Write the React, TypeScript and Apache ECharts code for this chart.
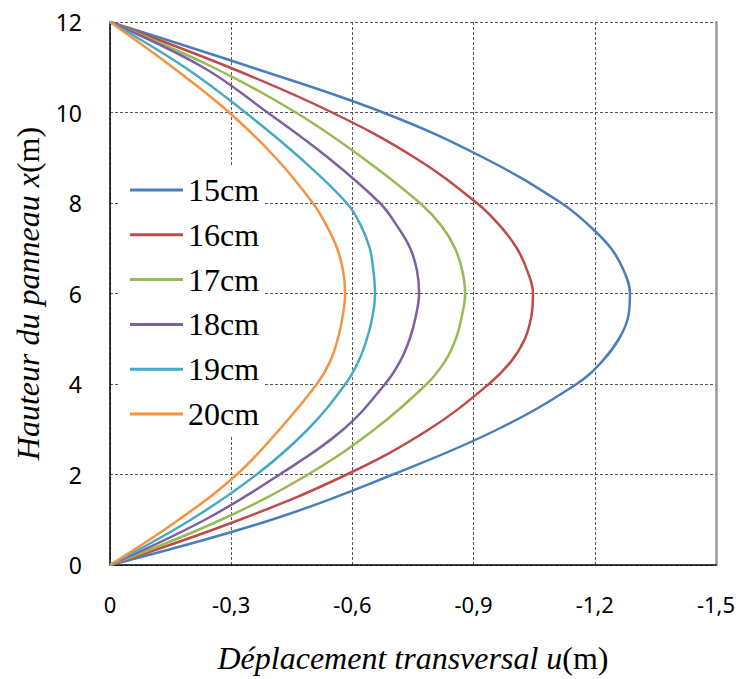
import React, { useEffect, useRef } from "react";
import * as echarts from "echarts";

const heights = [0, 1, 2, 3, 4, 4.5, 5, 5.5, 6, 6.5, 7, 7.5, 8, 9, 10, 11, 12];
const seriesNames = ["15cm", "16cm", "17cm", "18cm", "19cm", "20cm"];
const u15 = [0, -0.4, -0.7, -0.96, -1.155, -1.218, -1.26, -1.283, -1.287, -1.272, -1.24, -1.186, -1.117, -0.925, -0.676, -0.35, 0];
const u16 = [0, -0.321, -0.586, -0.79, -0.938, -0.993, -1.027, -1.043, -1.047, -1.033, -1.007, -0.965, -0.908, -0.755, -0.55, -0.295, 0];
const u17 = [0, -0.275, -0.49, -0.655, -0.784, -0.829, -0.856, -0.871, -0.879, -0.872, -0.854, -0.82, -0.767, -0.625, -0.46, -0.255, 0];
const u18 = [0, -0.235, -0.42, -0.578, -0.681, -0.718, -0.742, -0.757, -0.765, -0.76, -0.743, -0.71, -0.668, -0.54, -0.39, -0.23, 0];
const u19 = [0, -0.2, -0.363, -0.49, -0.583, -0.615, -0.636, -0.65, -0.656, -0.652, -0.643, -0.621, -0.586, -0.47, -0.335, -0.185, 0];
const u20 = [0, -0.17, -0.314, -0.42, -0.512, -0.545, -0.564, -0.576, -0.582, -0.577, -0.562, -0.536, -0.502, -0.41, -0.295, -0.155, 0];
const seriesValues = [u15, u16, u17, u18, u19, u20];
const colors = ["#4A7EBB", "#BE4B48", "#98B954", "#7D60A0", "#46AAC5", "#F69240"];
const xTicks = [0, -0.3, -0.6, -0.9, -1.2, -1.5];
const yTicks = [0, 2, 4, 6, 8, 10, 12];

export default function App() {
  const ref = useRef<HTMLDivElement>(null);
  useEffect(() => {
    if (!ref.current) return;
    const chart = echarts.init(ref.current, null, { renderer: "svg" });
    const grid = "#555555";
    const titleRich = {
      i: { fontFamily: "Liberation Serif", fontStyle: "italic", fontSize: 32, color: "#000" },
      n: { fontFamily: "Liberation Serif", fontSize: 32, color: "#000" },
    };
    chart.setOption({
      animation: false,
      backgroundColor: "#ffffff",
      grid: { left: 110, top: 22, right: 23, bottom: 111 },
      legend: {
        orient: "vertical",
        left: 120,
        top: 165,
        padding: [8, 4, 6, 10],
        backgroundColor: "#ffffff",
        icon: "rect",
        itemWidth: 53,
        itemHeight: 3,
        itemGap: 10.8,
        data: seriesNames,
        textStyle: {
          fontFamily: "Liberation Serif",
          fontSize: 32,
          lineHeight: 34,
          color: "#000",
        },
      },
      xAxis: {
        type: "value",
        min: -1.5,
        max: 0,
        interval: 0.3,
        inverse: true,
        name: "{i|Déplacement transversal u}{n|(m)}",
        nameLocation: "middle",
        nameGap: 77,
        nameTextStyle: { rich: titleRich },
        axisLine: { show: true, onZero: false, lineStyle: { color: "#000", width: 1.5 } },
        axisTick: { show: false },
        axisLabel: {
          margin: 28,
          fontFamily: "Noto Sans",
          fontSize: 22,
          color: "#000",
          formatter: (v: number) => {
            const t = xTicks.find((k) => Math.abs(k - v) < 1e-9);
            const val = t === undefined ? v : t;
            return val === 0 ? "0" : val.toFixed(1).replace(".", ",");
          },
        },
        splitLine: { show: true, lineStyle: { color: grid, type: [3, 2], width: 1 } },
      },
      yAxis: [
        {
          type: "value",
          min: 0,
          max: 12,
          interval: 2,
          name: "{i|Hauteur du panneau x}{n|(m)}",
          nameLocation: "middle",
          nameGap: 66,
          nameTextStyle: { rich: titleRich },
          axisLine: { show: true, onZero: false, lineStyle: { color: "#000", width: 1.5 } },
          axisTick: { show: false },
          axisLabel: {
            margin: 28,
            fontFamily: "Noto Sans",
            fontSize: 23,
            color: "#000",
            formatter: (v: number) => (yTicks.includes(v) ? String(v) : ""),
          },
          splitLine: { show: true, lineStyle: { color: grid, type: [3, 2], width: 1 } },
        },
        {
          type: "value",
          min: 0,
          max: 12,
          interval: 2,
          position: "right",
          axisLine: { show: true, onZero: false, lineStyle: { color: "#999", width: 2.5 } },
          axisTick: { show: false },
          axisLabel: { show: false },
          splitLine: { show: false },
        },
      ],
      series: seriesNames.map((name, i) => ({
        name,
        type: "line",
        yAxisIndex: 0,
        smooth: 0.4,
        showSymbol: false,
        symbol: "none",
        lineStyle: { color: colors[i], width: 2.5 },
        itemStyle: { color: colors[i] },
        data: seriesValues[i].map((u, k) => [u, heights[k]]),
      })),
    });
    return () => chart.dispose();
  }, []);
  return (
    <div
      ref={ref}
      style={{ position: "absolute", left: 0, top: 0, width: 739, height: 679 }}
    />
  );
}
